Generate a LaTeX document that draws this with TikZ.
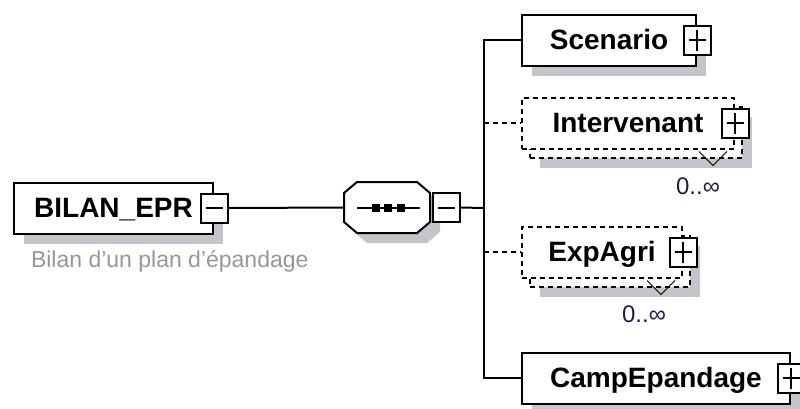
\documentclass[tikz,border=0pt]{standalone}
\usepackage{fontspec}
\setmainfont{Liberation Sans}
\usetikzlibrary{shadows, positioning}

\definecolor{shadowgray}{RGB}{198,196,202}
\definecolor{descgray}{RGB}{150,150,158}
\definecolor{occursblue}{RGB}{30,30,70}

\tikzset{
  elem/.style={draw, fill=white, minimum height=51pt, inner sep=0pt,
    font=\bfseries\fontsize{28}{28}\selectfont, text height=20pt, text depth=2pt},
  optional/.style={dash pattern=on 5pt off 4pt},
  shaded/.style={general shadow={fill=shadowgray, shadow xshift=10pt, shadow yshift=-10pt}},
  togglebox/.style={draw, fill=white, minimum width=27pt, minimum height=29pt, inner sep=0pt},
  minusbox/.style={togglebox, path picture={
    \draw ([xshift=5pt]path picture bounding box.west) -- ([xshift=-5pt]path picture bounding box.east);}},
  plusbox/.style={togglebox, path picture={
    \draw ([xshift=5pt]path picture bounding box.west) -- ([xshift=-5pt]path picture bounding box.east)
          ([yshift=-4pt]path picture bounding box.north) -- ([yshift=4pt]path picture bounding box.south);}},
  seqoutline/.style={insert path={(357,182) -- (417,182) -- (430,193) -- (430,222)
    -- (417,233) -- (357,233) -- (344,222) -- (344,193) -- cycle}},
  occurs/.style={inner sep=0pt, text=occursblue, font=\fontsize{24}{24}\selectfont},
  desc/.style={inner sep=0pt, text=descgray, font=\fontsize{23}{23}\selectfont}
}

\begin{document}
\begin{tikzpicture}[x=1pt, y=-1pt, line width=2pt]
  \useasboundingbox (0,0) rectangle (800,408);

  % Root element
  \node[elem, shaded, minimum width=199pt] (bilan) at (113.5,208) {BILAN\_EPR};
  \node[minusbox] (bilantog) at (bilan.east) {};
  \node[desc, anchor=base west] (bilandesc) at (30,267) {Bilan d'un plan d'épandage};

  % Sequence compositor
  \fill[shadowgray, shift={(10,10)}, seqoutline];
  \draw[fill=white, seqoutline];
  \node[minimum width=86pt, minimum height=51pt, inner sep=0pt] (seq) at (387,207.5) {};
  \draw (seq.center) ++(-30,0) -- ++(63,0);
  \foreach \dx in {-11,1,13.5}
    \fill ([xshift=\dx pt]seq.center) ++(-4,-4) rectangle ++(8,8);
  \node[minusbox, anchor=west] (seqtog) at ([xshift=1pt]seq.east) {};

  \draw (bilantog.east) -- (seq.west);

  % Children
  \node[elem, shaded, minimum width=174pt] (scen) at (609,40) {Scenario};
  \node[plusbox] (scentog) at (scen.east) {};

  \node[elem, optional, shaded, minimum width=212pt] (intvback) at (636,132) {};
  \node[elem, optional, minimum width=212pt] (intv) at (628,123) {Intervenant};
  \node[plusbox] (intvtog) at (intv.east) {};
  \draw[line width=0.8pt] ([xshift=-44pt, yshift=7pt]intvback.south east)
    -- ++(14,14) -- ++(14,-14);
  \node[occurs] (intvocc) at ([xshift=-45pt, yshift=-28pt]intvback.south east) {0..∞};

  \node[elem, optional, shaded, minimum width=160pt] (expback) at (610,261) {};
  \node[elem, optional, minimum width=160pt] (exp) at (602,252) {ExpAgri};
  \node[plusbox] (exptog) at (exp.east) {};
  \draw[line width=0.8pt] ([xshift=-44pt, yshift=7pt]expback.south east)
    -- ++(14,14) -- ++(14,-14);
  \node[occurs] (expocc) at ([xshift=-47pt, yshift=-27pt]expback.south east) {0..∞};

  \node[elem, shaded, minimum width=268pt] (camp) at (656,378) {CampEpandage};
  \node[plusbox] (camptog) at (camp.east) {};

  % Connectors
  \coordinate (fork) at (484,208);
  \draw (seqtog.east) -- (fork);
  \draw (scen.west) -- (scen.west -| fork) -- (camp.west -| fork) -- (camp.west);
  \draw[optional] (intv.west -| fork) -- (intv.west);
  \draw[optional] (exp.west -| fork) -- (exp.west);
\end{tikzpicture}
\end{document}
